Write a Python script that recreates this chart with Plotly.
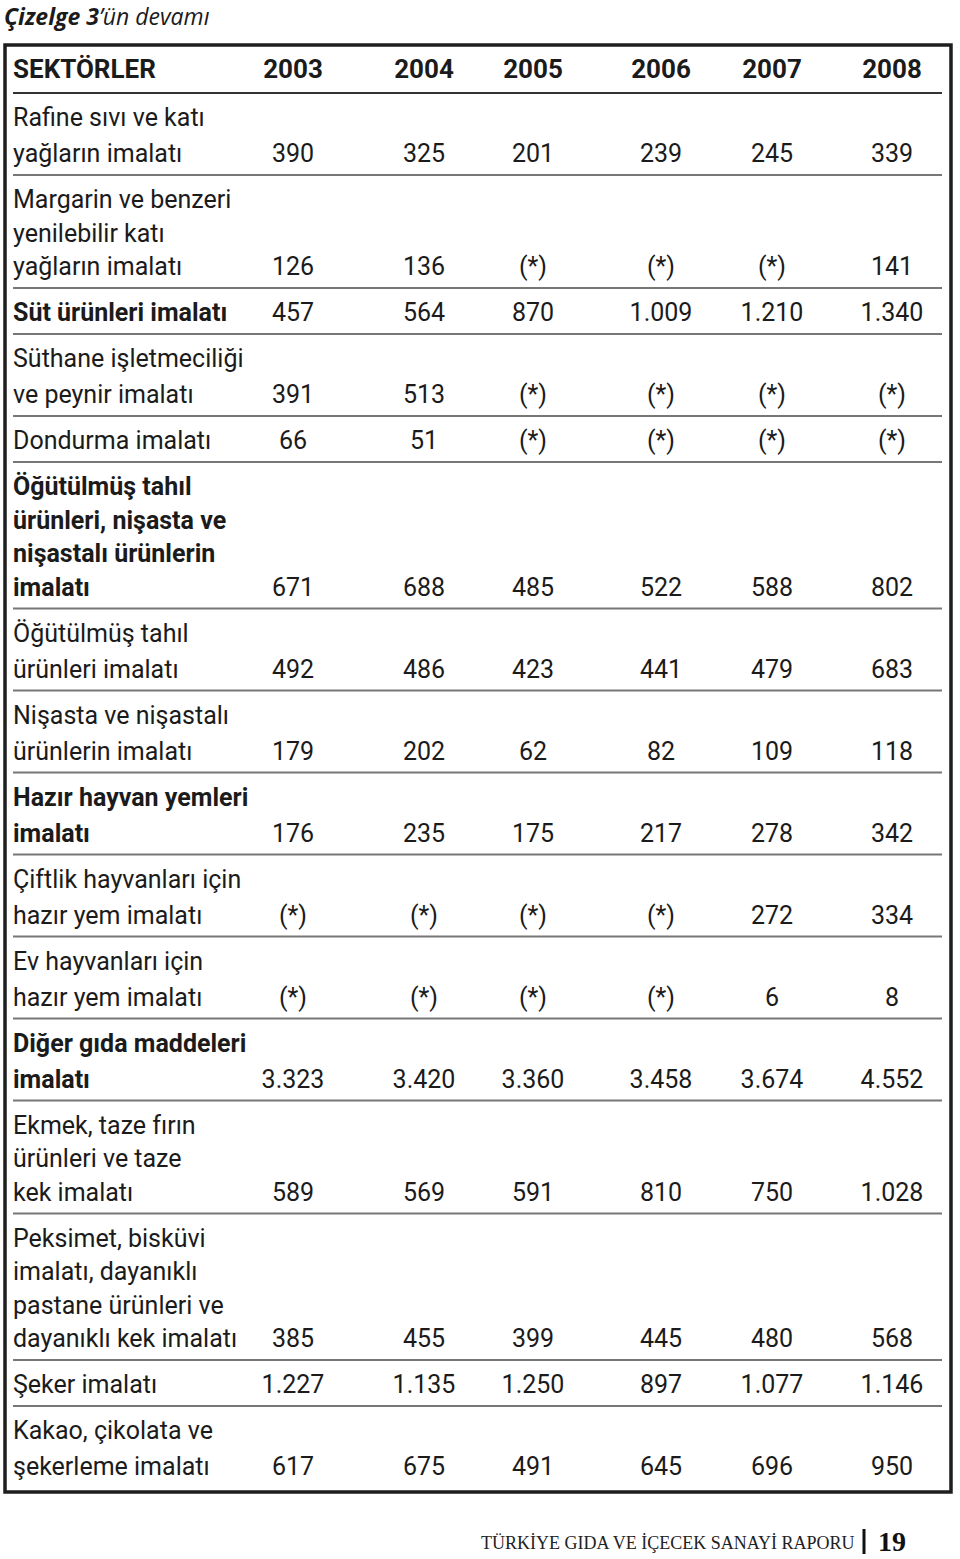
import plotly.graph_objects as go

# --- data -------------------------------------------------------------
years = ["2003", "2004", "2005", "2006", "2007", "2008"]

sectors = [
    ["Rafine sıvı ve katı", "yağların imalatı"],
    ["Margarin ve benzeri", "yenilebilir katı", "yağların imalatı"],
    ["Süt ürünleri imalatı"],
    ["Süthane işletmeciliği", "ve peynir imalatı"],
    ["Dondurma imalatı"],
    ["Öğütülmüş tahıl", "ürünleri, nişasta ve", "nişastalı ürünlerin", "imalatı"],
    ["Öğütülmüş tahıl", "ürünleri imalatı"],
    ["Nişasta ve nişastalı", "ürünlerin imalatı"],
    ["Hazır hayvan yemleri", "imalatı"],
    ["Çiftlik hayvanları için", "hazır yem imalatı"],
    ["Ev hayvanları için", "hazır yem imalatı"],
    ["Diğer gıda maddeleri", "imalatı"],
    ["Ekmek, taze fırın", "ürünleri ve taze", "kek imalatı"],
    ["Peksimet, bisküvi", "imalatı, dayanıklı", "pastane ürünleri ve", "dayanıklı kek imalatı"],
    ["Şeker imalatı"],
    ["Kakao, çikolata ve", "şekerleme imalatı"],
]
bold_rows = [False, False, True, False, False, True, False, False,
             True, False, False, True, False, False, False, False]

# None = (*) gizli veri
v2003 = [390, 126, 457, 391, 66, 671, 492, 179, 176, None, None, 3323, 589, 385, 1227, 617]
v2004 = [325, 136, 564, 513, 51, 688, 486, 202, 235, None, None, 3420, 569, 455, 1135, 675]
v2005 = [201, None, 870, None, None, 485, 423, 62, 175, None, None, 3360, 591, 399, 1250, 491]
v2006 = [239, None, 1009, None, None, 522, 441, 82, 217, None, None, 3458, 810, 445, 897, 645]
v2007 = [245, None, 1210, None, None, 588, 479, 109, 278, 272, 6, 3674, 750, 480, 1077, 696]
v2008 = [339, 141, 1340, None, None, 802, 683, 118, 342, 334, 8, 4552, 1028, 568, 1146, 950]
columns = [v2003, v2004, v2005, v2006, v2007, v2008]


def fmt(v):
    if v is None:
        return "(*)"
    return f"{v:,}".replace(",", ".")


# --- layout constants -------------------------------------------------
W, H = 960, 1559
col_x = [293, 424, 533, 661, 772, 892]
label_x = 13
font = "Liberation Sans Narrow, Arial Narrow, Roboto, sans-serif"
ink = "#1b1b1b"
fs = 25
header_line = 93
top_pad, bot_pad = 25, 21
text_dy = 2  # plotly centers text a bit high

# row line positions
line_y = []
seps = []
y = header_line
for lines in sectors:
    gap = 36 if len(lines) == 2 else 33.5
    first = y + top_pad
    ys = [first + k * gap for k in range(len(lines))]
    line_y.append(ys)
    y = ys[-1] + bot_pad
    seps.append(y)

fig = go.Figure()

# labels
for bold in (False, True):
    xs, ys, ts = [], [], []
    for lines, yy, b in zip(sectors, line_y, bold_rows):
        if b != bold:
            continue
        for t, yv in zip(lines, yy):
            xs.append(label_x)
            ys.append(yv + text_dy)
            ts.append(t)
    fig.add_trace(go.Scatter(
        x=xs, y=ys, text=ts, mode="text", textposition="middle right",
        textfont=dict(family=font, size=fs, color=ink,
                      weight="bold" if bold else "normal"),
        hoverinfo="skip", showlegend=False))

# values
for j, col in enumerate(columns):
    fig.add_trace(go.Scatter(
        x=[col_x[j]] * len(col), y=[yy[-1] + text_dy for yy in line_y],
        text=[fmt(v) for v in col], mode="text", textposition="middle center",
        textfont=dict(family=font, size=fs, color=ink),
        hoverinfo="skip", showlegend=False))

# header
fig.add_trace(go.Scatter(
    x=[label_x], y=[71], text=["SEKTÖRLER"], mode="text",
    textposition="middle right",
    textfont=dict(family=font, size=26, color=ink, weight="bold"),
    hoverinfo="skip", showlegend=False))
fig.add_trace(go.Scatter(
    x=col_x, y=[71] * len(years), text=years, mode="text",
    textposition="middle center",
    textfont=dict(family=font, size=26, color=ink, weight="bold"),
    hoverinfo="skip", showlegend=False))

shapes = [
    dict(type="rect", x0=5, x1=951, y0=45, y1=1492,
         line=dict(color="#1e1e1e", width=3.5)),
    dict(type="line", x0=13, x1=942, y0=header_line, y1=header_line,
         line=dict(color="#333333", width=2)),
]
for s in seps[:-1]:
    shapes.append(dict(type="line", x0=13, x1=942, y0=s, y1=s,
                       line=dict(color="#777777", width=2)))
# footer bar
shapes.append(dict(type="line", x0=864, x1=864, y0=1529, y1=1554,
                   line=dict(color="#111111", width=3)))

annotations = [
    dict(x=2, y=16, xref="x", yref="y", xanchor="left", yanchor="middle",
         text="<i><b>Çizelge 3</b>’ün devamı</i>", showarrow=False,
         font=dict(family="Open Sans, Noto Sans, sans-serif", size=23, color=ink)),
    dict(x=857, y=1543, xref="x", yref="y", xanchor="right", yanchor="middle",
         text="TÜRKİYE GIDA VE İÇECEK SANAYİ RAPORU", showarrow=False,
         font=dict(family="Liberation Serif, DejaVu Serif, serif", size=18, color="#222222")),
    dict(x=876, y=1541, xref="x", yref="y", xanchor="left", yanchor="middle",
         text="<b>19</b>", showarrow=False,
         font=dict(family="Liberation Serif, DejaVu Serif, serif", size=28, color="#111111")),
]

fig.update_layout(
    width=W, height=H,
    margin=dict(l=0, r=0, t=0, b=0),
    paper_bgcolor="white", plot_bgcolor="white",
    xaxis=dict(range=[0, W], visible=False, fixedrange=True),
    yaxis=dict(range=[H, 0], visible=False, fixedrange=True),
    shapes=shapes, annotations=annotations,
)

# the page's default body margin would push the figure 8px in
fig.write_html("out.html", config={"displayModeBar": False},
               post_script="document.body.style.margin='0px';")
